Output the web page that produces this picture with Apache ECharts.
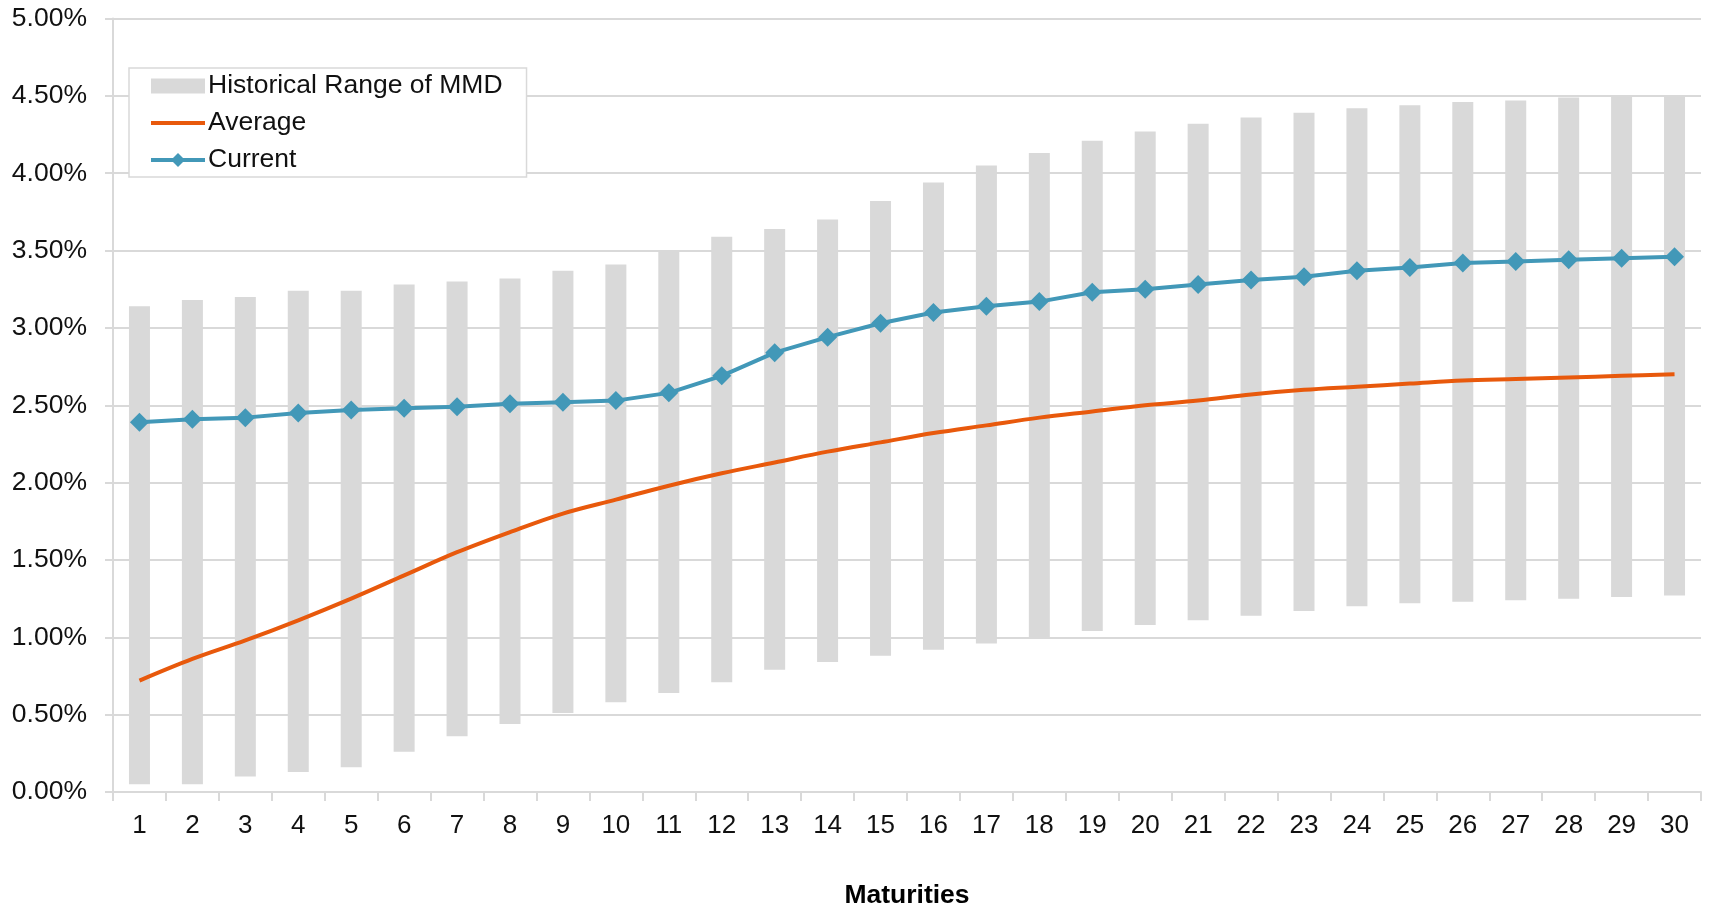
<!DOCTYPE html>
<html>
<head>
<meta charset="utf-8">
<script src="https://cdn.jsdelivr.net/npm/echarts@6/dist/echarts.min.js"></script>
<style>
html,body{margin:0;padding:0;background:#fff;}
#chart{width:1710px;height:906px;}
</style>
</head>
<body>
<div id="chart"></div>
<script>
const maturities = ['1','2','3','4','5','6','7','8','9','10','11','12','13','14','15','16','17','18','19','20','21','22','23','24','25','26','27','28','29','30'];
const rangeLow  = [0.05,0.05,0.10,0.13,0.16,0.26,0.36,0.44,0.51,0.58,0.64,0.71,0.79,0.84,0.88,0.92,0.96,1.00,1.04,1.08,1.11,1.14,1.17,1.20,1.22,1.23,1.24,1.25,1.26,1.27];
const rangeHigh = [3.14,3.18,3.20,3.24,3.24,3.28,3.30,3.32,3.37,3.41,3.49,3.59,3.64,3.70,3.82,3.94,4.05,4.13,4.21,4.27,4.32,4.36,4.39,4.42,4.44,4.46,4.47,4.49,4.50,4.50];
const average   = [0.72,0.86,0.98,1.11,1.25,1.40,1.55,1.68,1.80,1.89,1.98,2.06,2.13,2.20,2.26,2.32,2.37,2.42,2.46,2.50,2.53,2.57,2.60,2.62,2.64,2.66,2.67,2.68,2.69,2.70];
const current   = [2.39,2.41,2.42,2.45,2.47,2.48,2.49,2.51,2.52,2.53,2.58,2.69,2.84,2.94,3.03,3.10,3.14,3.17,3.23,3.25,3.28,3.31,3.33,3.37,3.39,3.42,3.43,3.44,3.45,3.46];
const yTicks = { min: 0, max: 5, interval: 0.5 };

const rangeSpan = rangeHigh.map((h, i) => +(h - rangeLow[i]).toFixed(2));
const FONT = "'Liberation Sans', Arial, Helvetica, sans-serif";
const chart = echarts.init(document.getElementById('chart'), null, {renderer: 'canvas'});
chart.setOption({
  animation: false,
  textStyle: { fontFamily: FONT },
  grid: { left: 113, right: 9, top: 18.5, bottom: 114, containLabel: false, outerBoundsMode: 'none' },
  legend: {
    orient: 'vertical',
    left: 129, top: 68,
    data: [
      { name: 'Historical Range of MMD', icon: 'path://M0,0L54,0L54,15L0,15Z' },
      { name: 'Average', icon: 'path://M0,0L54,0L54,4L0,4Z' },
      'Current'
    ],
    itemWidth: 54, itemHeight: 17.5, itemGap: 5,
    padding: [2, 24, 1, 20],
    backgroundColor: '#fff',
    borderColor: '#d9d9d9', borderWidth: 1.5,
    lineStyle: { width: 4 },
    textStyle: { fontFamily: FONT, fontSize: 26.5, color: '#111', lineHeight: 32, padding: [0,0,0,-2] }
  },
  xAxis: {
    type: 'category',
    data: maturities,
    boundaryGap: true,
    name: 'Maturities',
    nameLocation: 'middle',
    nameGap: 90,
    nameTextStyle: { fontFamily: FONT, fontSize: 26.5, fontWeight: 'bold', color: '#000' },
    axisLine: { lineStyle: { color: '#d9d9d9', width: 2 } },
    axisTick: { show: true, alignWithLabel: false, length: 9, lineStyle: { color: '#d9d9d9', width: 2 } },
    axisLabel: { fontFamily: FONT, fontSize: 26, color: '#111', margin: 21 },
    splitLine: { show: false }
  },
  yAxis: {
    type: 'value',
    min: yTicks.min, max: yTicks.max, interval: yTicks.interval,
    axisLine: { show: true, lineStyle: { color: '#d9d9d9', width: 2 } },
    axisTick: { show: true, length: 8, lineStyle: { color: '#d9d9d9', width: 2 } },
    axisLabel: { fontFamily: FONT, fontSize: 26.5, color: '#111', margin: 26,
      formatter: v => v.toFixed(2) + '%' },
    splitLine: { show: true, lineStyle: { color: '#d9d9d9', width: 2 } }
  },
  series: [
    { name: 'low', type: 'bar', stack: 'range', data: rangeLow, barWidth: 21,
      itemStyle: { color: 'rgba(0,0,0,0)' }, silent: true, z: 1 },
    { name: 'Historical Range of MMD', type: 'bar', stack: 'range', data: rangeSpan, barWidth: 21,
      itemStyle: { color: '#d9d9d9' }, z: 1 },
    { name: 'Average', type: 'line', data: average, smooth: 0.35,
      symbol: 'none',
      lineStyle: { color: '#e8590c', width: 4 }, itemStyle: { color: '#e8590c' }, z: 3 },
    { name: 'Current', type: 'line', data: current, symbol: 'diamond', symbolSize: 19,
      lineStyle: { color: '#4298b8', width: 4 }, itemStyle: { color: '#4298b8' }, z: 4 }
  ]
});
</script>
</body>
</html>
